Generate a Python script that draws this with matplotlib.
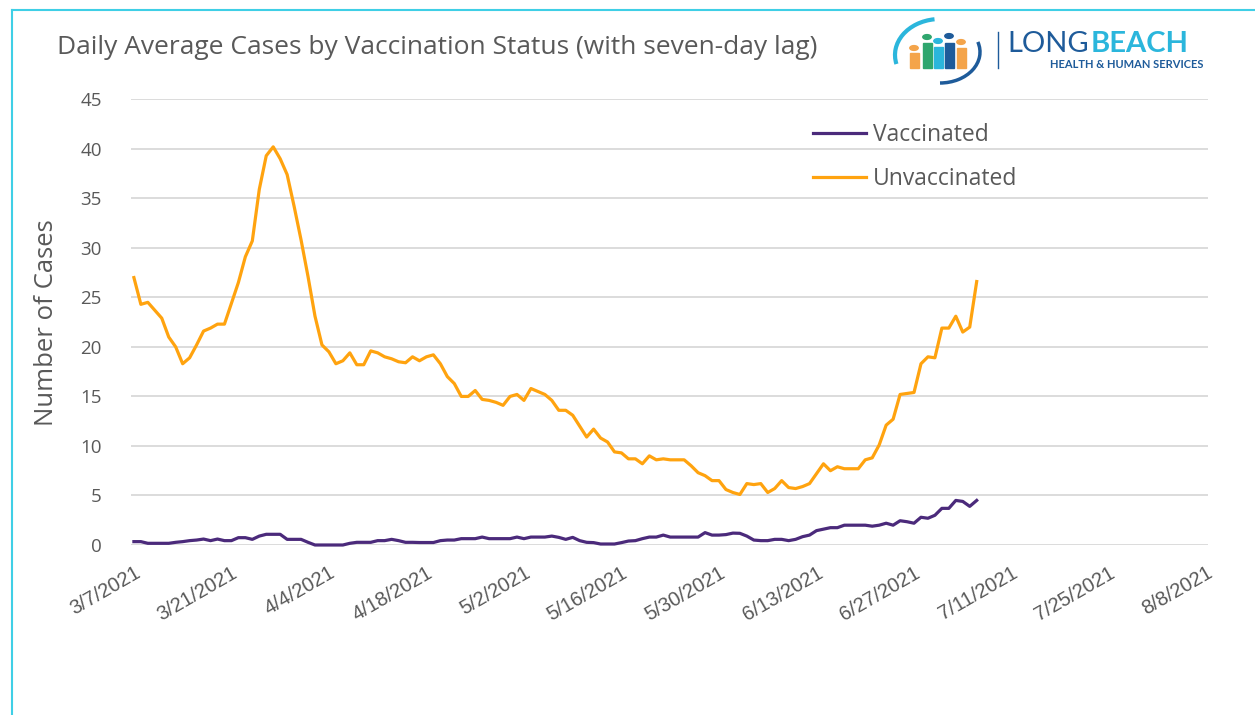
import numpy as np
import pandas as pd
import matplotlib
matplotlib.use('Agg')
import matplotlib.pyplot as plt
from matplotlib.lines import Line2D
from matplotlib.patches import Rectangle, Circle, Arc

# daily averages, 3/7/2021 onwards
start = '2021-03-07'
unvaccinated = [27.0, 24.3, 24.5, 23.7, 22.9, 21.0, 20.0, 18.3, 18.9, 20.2,
                21.6, 21.9, 22.3, 22.3, 24.4, 26.5, 29.1, 30.7, 35.9, 39.3,
                40.2, 39.0, 37.4, 34.2, 30.8, 27.1, 23.1, 20.2, 19.5, 18.3,
                18.6, 19.4, 18.2, 18.2, 19.6, 19.4, 19.0, 18.8, 18.5, 18.4,
                19.0, 18.6, 19.0, 19.2, 18.3, 17.0, 16.3, 15.0, 15.0, 15.6,
                14.7, 14.6, 14.4, 14.1, 15.0, 15.2, 14.6, 15.8, 15.5, 15.2,
                14.6, 13.6, 13.6, 13.1, 12.0, 10.9, 11.7, 10.8, 10.4, 9.4,
                9.3, 8.7, 8.7, 8.2, 9.0, 8.6, 8.7, 8.6, 8.6, 8.6,
                8.0, 7.3, 7.0, 6.5, 6.5, 5.6, 5.3, 5.1, 6.2, 6.1,
                6.2, 5.3, 5.7, 6.5, 5.8, 5.7, 5.9, 6.2, 7.2, 8.2,
                7.5, 7.9, 7.7, 7.7, 7.7, 8.6, 8.8, 10.1, 12.1, 12.7,
                15.2, 15.3, 15.4, 18.3, 19.0, 18.9, 21.9, 21.9, 23.1, 21.5,
                22.0, 26.6]
vaccinated = [0.34, 0.34, 0.17, 0.17, 0.17, 0.17, 0.27, 0.34, 0.44, 0.5,
              0.6, 0.44, 0.6, 0.44, 0.44, 0.74, 0.74, 0.57, 0.9, 1.08,
              1.08, 1.08, 0.57, 0.57, 0.57, 0.27, 0.0, 0.0, 0.0, 0.0,
              0.0, 0.17, 0.27, 0.27, 0.27, 0.44, 0.44, 0.57, 0.44, 0.27,
              0.27, 0.25, 0.25, 0.25, 0.44, 0.5, 0.5, 0.64, 0.64, 0.64,
              0.8, 0.64, 0.64, 0.64, 0.64, 0.8, 0.64, 0.8, 0.8, 0.8,
              0.9, 0.77, 0.57, 0.77, 0.44, 0.27, 0.24, 0.1, 0.1, 0.1,
              0.24, 0.4, 0.44, 0.64, 0.8, 0.8, 1.0, 0.8, 0.8, 0.8,
              0.8, 0.8, 1.25, 1.0, 1.0, 1.05, 1.2, 1.18, 0.9, 0.5,
              0.44, 0.44, 0.57, 0.57, 0.44, 0.57, 0.84, 1.0, 1.45, 1.6,
              1.75, 1.75, 2.0, 2.0, 2.0, 2.0, 1.9, 2.0, 2.2, 2.0,
              2.45, 2.35, 2.2, 2.8, 2.7, 3.0, 3.7, 3.7, 4.5, 4.4,
              3.9, 4.5]
dates = pd.date_range(start, periods=len(unvaccinated), freq='D')
tick_dates = pd.date_range('2021-03-07', '2021-08-08', freq='14D')
tick_labels = [f"{d.month}/{d.day}/{d.year}" for d in tick_dates]
y_ticks = list(range(0, 50, 5))

gray = '#595959'
ui_font = ['Open Sans', 'DejaVu Sans']
fig = plt.figure(figsize=(12.55, 7.15), dpi=100)
ax = fig.add_axes([131/1255, 170/715, 1077/1255, 445.7/715])

ax.plot(dates, vaccinated, color='#4B2A7B', lw=2.3, label='Vaccinated', clip_on=False)
ax.plot(dates, unvaccinated, color='#FFA30F', lw=2.3, label='Unvaccinated', clip_on=False)

ax.set_xlim(pd.Timestamp('2021-03-07') - pd.Timedelta(hours=10),
            pd.Timestamp('2021-08-08') + pd.Timedelta(hours=5))
ax.set_ylim(0, 45)
ax.set_yticks(y_ticks)
ax.set_yticklabels([str(v) for v in y_ticks], fontsize=13.5, color=gray, family=ui_font)
ax.set_xticks(tick_dates)
ax.set_xticklabels(tick_labels, rotation=30, ha='right', rotation_mode='anchor',
                   fontsize=14.5, color=gray, family=['Liberation Sans', 'DejaVu Sans'])
ax.tick_params(length=0)
ax.tick_params(axis='y', pad=21)
ax.tick_params(axis='x', pad=13)
ax.grid(axis='y', color='#d9d9d9', lw=1.3)
ax.set_axisbelow(True)
for s in ax.spines.values():
    s.set_visible(False)
ax.set_ylabel('Number of Cases', fontsize=18.5, color=gray, family=ui_font)
ax.yaxis.set_label_coords(-0.067, 0.5)

leg = ax.legend(loc='upper left', bbox_to_anchor=(802/1255, 1 - 112/715),
                bbox_transform=fig.transFigure, frameon=False, fontsize=16.5,
                handlelength=2.3, handletextpad=0.3, labelspacing=0.85, borderpad=0)
for t in leg.get_texts():
    t.set_color(gray)
    t.set_family(ui_font)

fig.text(57/1255, 1 - 48/715, 'Daily Average Cases by Vaccination Status (with seven-day lag)',
         fontsize=19, color=gray, family=ui_font, va='center', ha='left')

# cyan frame
fig.add_artist(Line2D([12/1255, 1], [1 - 10/715, 1 - 10/715], color='#3FCFE6', lw=1.5))
fig.add_artist(Line2D([12/1255, 12/1255], [0, 1 - 10/715], color='#3FCFE6', lw=1.5))

# logo
fig.text(1007/1255, 1 - 44/715, 'LONG', fontsize=21, color='#1E5B9A', family='Lato',
         va='center', ha='left')
fig.text(1091/1255, 1 - 44/715, 'BEACH', fontsize=21, color='#2BB6DC', family='Lato',
         fontweight='bold', va='center', ha='left')
fig.text(1204/1255, 1 - 64/715, 'HEALTH & HUMAN SERVICES', fontsize=8, color='#1E5B9A',
         family='Lato', fontweight='bold', va='center', ha='right')
fig.add_artist(Line2D([998/1255, 998/1255], [1 - 32/715, 1 - 68/715], color='#1E5B9A', lw=1))
people = [(914, '#F4A44A', 53, 48), (927, '#2FA66E', 43, 37), (938, '#2BB6DC', 47, 41),
          (949, '#1E5B9A', 43, 36), (961, '#F4A44A', 48, 42)]
for px, c, top, head in people:
    fig.add_artist(Rectangle(((px - 4.5) / 1255, 1 - 68/715), 9/1255, (68 - top)/715,
                             transform=fig.transFigure, color=c))
    fig.add_artist(Circle((px / 1255, 1 - head / 715), 4.2/1255,
                          transform=fig.transFigure, color=c))
fig.add_artist(Arc((940/1255, 1 - 55/715), 90/1255, 72/715, theta1=95, theta2=200,
                   transform=fig.transFigure, color='#2BB6DC', lw=3))
fig.add_artist(Arc((940/1255, 1 - 52/715), 80/1255, 62/715, theta1=270, theta2=25,
                   transform=fig.transFigure, color='#1E5B9A', lw=2.5))

fig.savefig('out.png', dpi=100)
